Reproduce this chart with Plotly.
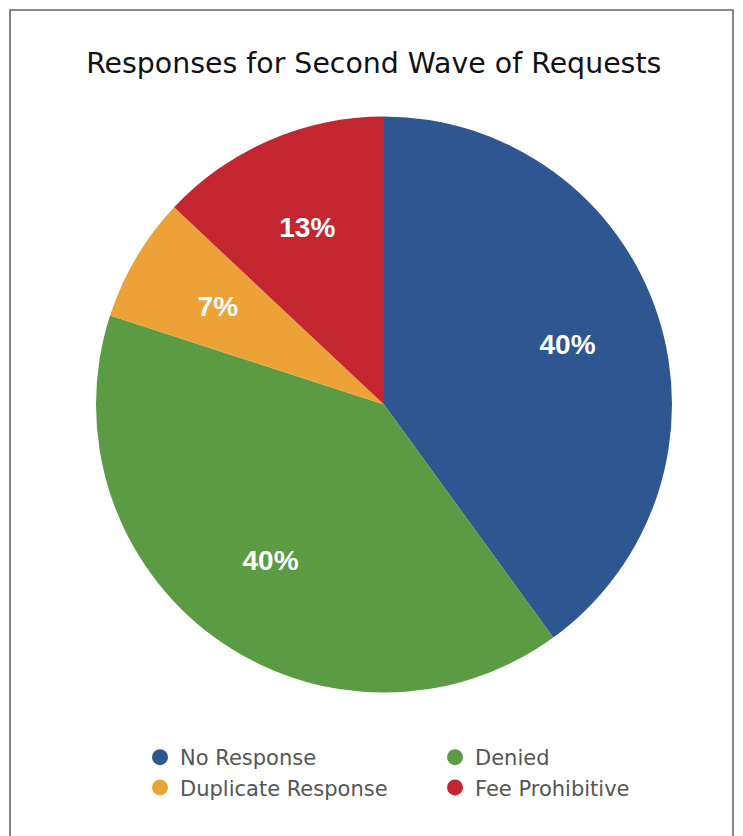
import plotly.graph_objects as go

categories = ["No Response", "Denied", "Duplicate Response", "Fee Prohibitive"]
values = [40, 40, 7, 13]
colors = ["#2E5690", "#5B9B43", "#ECA237", "#C3262F"]
legend_column = ["legend", "legend2", "legend", "legend2"]
title_text = "Responses for Second Wave of Requests"

W, H = 743, 836
cx, cy, R = 384, 404.5, 288


def square_domain(radius):
    return dict(x=[(cx - radius) / W, (cx + radius) / W],
                y=[1 - (cy + radius) / H, 1 - (cy - radius) / H])


fig = go.Figure()
# filled pie
fig.add_trace(go.Pie(
    labels=categories, values=values, sort=False, direction="clockwise", rotation=0,
    marker=dict(colors=colors, line=dict(width=0)),
    textinfo="none", showlegend=False, hoverinfo="label+percent", domain=square_domain(R),
))
# transparent thin ring carrying the percentage labels at ~2/3 of the radius
label_r, half_band = 193, 36
fig.add_trace(go.Pie(
    labels=categories, values=values, sort=False, direction="clockwise", rotation=0,
    hole=(label_r - half_band) / (label_r + half_band),
    marker=dict(colors=["rgba(0,0,0,0)"] * len(values), line=dict(width=0)),
    texttemplate="%{percent:.0%}", textposition="inside", insidetextorientation="horizontal",
    textfont=dict(family="Liberation Sans", size=28, color="white", weight="bold"),
    showlegend=False, hoverinfo="skip", domain=square_domain(label_r + half_band),
))
for name, col, lg in zip(categories, colors, legend_column):
    fig.add_trace(go.Scatter(x=[None], y=[None], mode="markers", name=name, legend=lg,
                             marker=dict(color=col, size=20, symbol="circle")))

legend_font = dict(family="DejaVu Sans", size=21, color="#555")
fig.update_layout(
    width=W, height=H, margin=dict(l=0, r=0, t=0, b=0),
    paper_bgcolor="white", plot_bgcolor="white",
    xaxis=dict(visible=False), yaxis=dict(visible=False),
    title=dict(text=title_text, x=0.503, xanchor="center", y=1 - 63 / H, yanchor="middle",
               font=dict(family="DejaVu Sans", size=28.4, color="#111")),
    legend=dict(orientation="v", x=140 / W, xanchor="left", y=1 - 737 / H, yanchor="top",
                font=legend_font, bgcolor="rgba(0,0,0,0)"),
    legend2=dict(orientation="v", x=435 / W, xanchor="left", y=1 - 737 / H, yanchor="top",
                 font=legend_font, bgcolor="rgba(0,0,0,0)"),
    shapes=[dict(type="rect", xref="paper", yref="paper", x0=10 / W, x1=733 / W,
                 y0=-0.1, y1=1 - 10 / H, line=dict(color="#666", width=1.6))],
)
fig.write_html("out.html", config={"displayModeBar": False},
               post_script="document.body.style.margin='0';")
